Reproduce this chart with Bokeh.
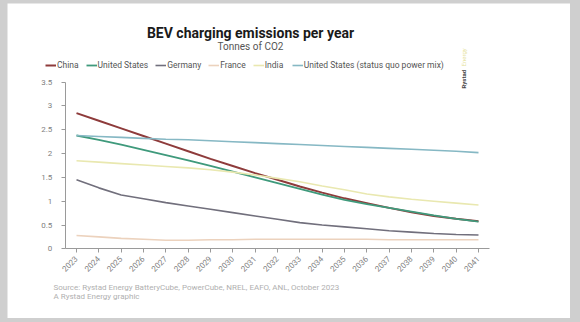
from bokeh.plotting import figure
from bokeh.models import Range1d, Label, CustomJSTickFormatter, LinearAxis, FixedTicker, Legend, LegendItem
from bokeh.layouts import column
from bokeh.embed import file_html
from bokeh.resources import INLINE
import math

years = list(range(2023, 2042))
china = [2.85, 2.69, 2.53, 2.37, 2.21, 2.05, 1.89, 1.74, 1.59, 1.45, 1.31, 1.18, 1.06, 0.96, 0.86, 0.77, 0.69, 0.63, 0.58]
united_states = [2.38, 2.29, 2.19, 2.08, 1.97, 1.86, 1.74, 1.62, 1.50, 1.38, 1.26, 1.14, 1.03, 0.94, 0.86, 0.78, 0.70, 0.63, 0.57]
germany = [1.45, 1.28, 1.13, 1.05, 0.97, 0.90, 0.83, 0.76, 0.69, 0.62, 0.55, 0.50, 0.46, 0.42, 0.38, 0.35, 0.32, 0.30, 0.29]
france = [0.28, 0.25, 0.22, 0.20, 0.18, 0.18, 0.19, 0.19, 0.20, 0.20, 0.20, 0.20, 0.20, 0.20, 0.19, 0.19, 0.19, 0.19, 0.19]
india = [1.85, 1.82, 1.79, 1.76, 1.73, 1.70, 1.66, 1.61, 1.55, 1.48, 1.41, 1.32, 1.24, 1.15, 1.09, 1.04, 1.00, 0.96, 0.92]
us_status_quo = [2.38, 2.36, 2.34, 2.32, 2.30, 2.29, 2.27, 2.25, 2.23, 2.21, 2.19, 2.17, 2.15, 2.13, 2.11, 2.09, 2.07, 2.05, 2.02]
y_ticks = [0, 0.5, 1, 1.5, 2, 2.5, 3, 3.5]

series = [
    ("China", china, "#8e3b3b", 2.0),
    ("United States", united_states, "#3f9a7c", 1.8),
    ("Germany", germany, "#716f7c", 1.6),
    ("France", france, "#ecd2bd", 1.6),
    ("India", india, "#e9e8b0", 1.6),
    ("United States (status quo power mix)", us_status_quo, "#86b8c4", 1.6),
]

FONT = "Roboto"
W, H = 563, 315

p = figure(width=W, height=H, x_range=Range1d(2019.91, 2045.12), y_range=Range1d(-1.464, 5.153),
           output_backend="svg", toolbar_location=None,
           x_axis_location=None, y_axis_location=None,
           min_border=0)
p.margin = (3, 10, 4, 7)
p.outline_line_color = None
p.background_fill_color = "white"
p.border_fill_color = "white"
p.xgrid.visible = False
p.ygrid.visible = False

items = []
for name, vals, color, lw in series:
    r = p.line(years, vals, line_color=color, line_width=lw)
    items.append(LegendItem(label=name, renderers=[r]))

xax = LinearAxis(fixed_location=0, bounds=(2022.5, 2041.5), ticker=FixedTicker(ticks=years))
yax = LinearAxis(fixed_location=2022.5, bounds=(0, 3.5), ticker=FixedTicker(ticks=y_ticks))
for ax in (xax, yax):
    ax.axis_line_color = "#9a9a9a"
    ax.major_tick_line_color = "#9a9a9a"
    ax.minor_tick_line_color = None
    ax.major_tick_in = 0
    ax.major_tick_out = 4
    ax.major_label_text_font = FONT
    ax.major_label_text_font_size = "8px"
    ax.major_label_text_color = "#808080"
    ax.formatter = CustomJSTickFormatter(code="return String(tick)")
xax.major_label_orientation = math.pi / 4
yax.major_label_standoff = 9
p.add_layout(xax, "below")
p.add_layout(yax, "left")

lg = Legend(items=items, orientation="horizontal", location=(38, 248))
lg.label_text_font = FONT
lg.label_text_font_size = "8.5px"
lg.label_text_color = "#555555"
lg.glyph_width = 11
lg.glyph_height = 10
lg.label_standoff = 1
lg.spacing = 7
lg.padding = 0
lg.margin = 0
lg.border_line_color = None
lg.background_fill_alpha = 0
lg.label_height = 10
p.add_layout(lg)

def lab(x, y, text, size, color, **kw):
    p.add_layout(Label(x=x, y=y, x_units="screen", y_units="screen", text=text,
                       text_font=FONT, text_font_size=size, text_color=color,
                       text_baseline="middle", **kw))

lab(243, 286, "BEV charging emissions per year", "14px", "#1a1a1a", text_font_style="bold", text_align="center")
lab(243, 272, "Tonnes of CO2", "10px", "#555555", text_align="center")
lab(46, 31, "Source: Rystad Energy BatteryCube, PowerCube, NREL, EAFO, ANL, October 2023", "8px", "#b0b0b0")
lab(46, 22, "A Rystad Energy graphic", "8px", "#b0b0b0")
lab(456, 230, "Rystad", "6px", "#444444", text_font_style="bold", angle=math.pi / 2)
lab(456, 252, "Energy", "6px", "#e6e3a0", angle=math.pi / 2)

layout = column(p, styles={"background-color": "#cfcfcf"})
open("out.html", "w").write(file_html(layout, INLINE))
